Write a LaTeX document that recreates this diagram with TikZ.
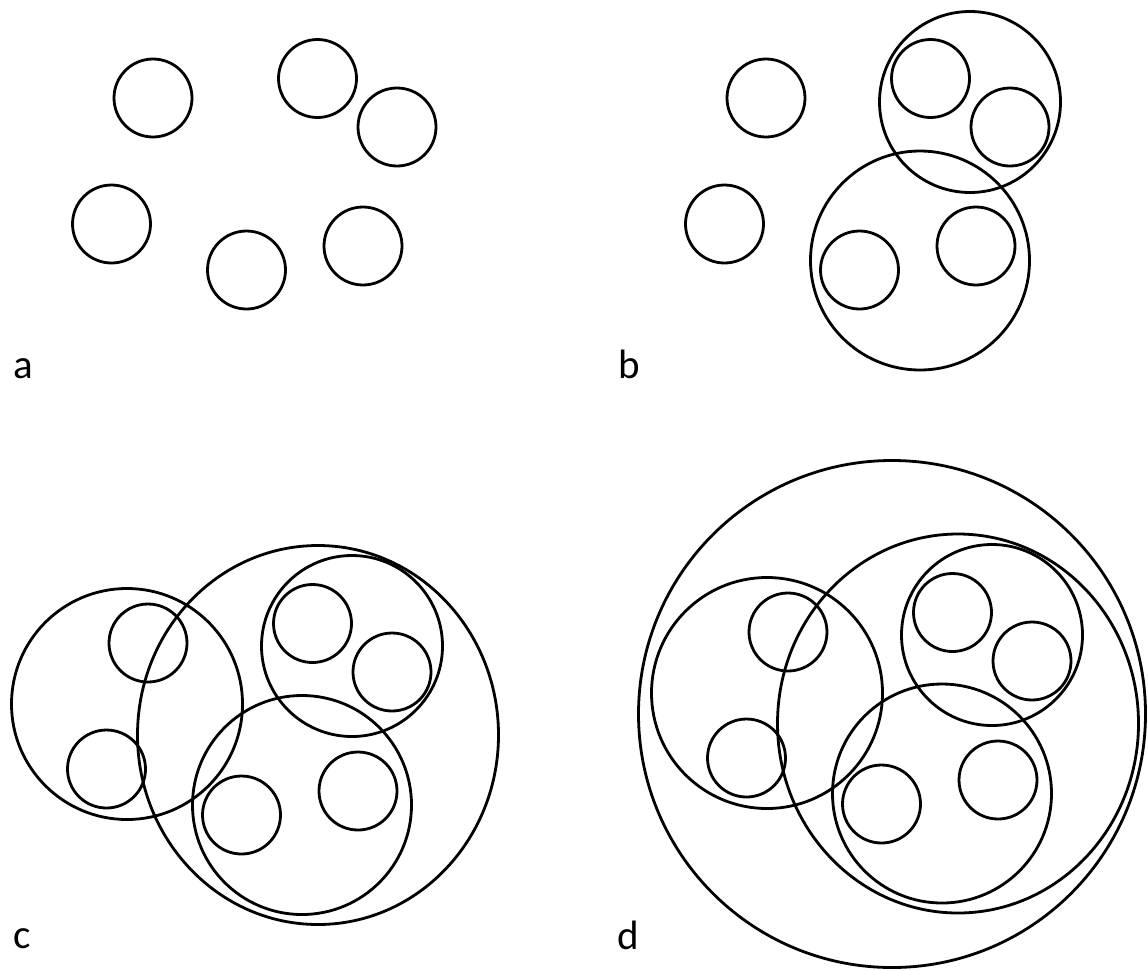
\documentclass[tikz,border=0pt]{standalone}
\usepackage{fontspec}
\setmainfont{Carlito}
\begin{document}
\begin{tikzpicture}[x=1pt,y=-1pt,
  ring/.style={draw=black,line width=2.8pt},
  lbl/.style={anchor=base west,inner sep=0pt,font=\fontsize{41}{45}\selectfont}]
\useasboundingbox (0,0) rectangle (1148,970);
% small circles relative to panel a
\newcommand{\smallset}{%
  \draw[ring] (153,98) circle[radius=39];
  \draw[ring] (317.5,78.5) circle[radius=39];
  \draw[ring] (397,127) circle[radius=39];
  \draw[ring] (111.5,224) circle[radius=39];
  \draw[ring] (246.5,270) circle[radius=39];
  \draw[ring] (363,246) circle[radius=39];}
% panel a
\begin{scope}
  \smallset
\end{scope}
\node[lbl] (la) at (13,378) {a};
% panel b
\begin{scope}[shift={(613,0)}]
  \smallset
  \draw[ring] (357,102) circle[radius=90.5];
  \draw[ring] (307,260.5) circle[radius=109.5];
\end{scope}
\node[lbl] (lb) at (618,378) {b};
% panel c
\begin{scope}[shift={(-5,545)}]
  \smallset
  \draw[ring] (357,101) circle[radius=90.5];
  \draw[ring] (307,260) circle[radius=109.5];
  \draw[ring] (132,159) circle[radius=115.5];
  \draw[ring] (323,190) ellipse[x radius=180.5,y radius=189.5];
\end{scope}
\node[lbl] (lc) at (13,948) {c};
% panel d
\begin{scope}[shift={(635,534)}]
  \smallset
  \draw[ring] (357,101) circle[radius=90.5];
  \draw[ring] (307,259.5) circle[radius=109.5];
  \draw[ring] (132,159) circle[radius=115.5];
  \draw[ring] (323,189.5) ellipse[x radius=180.5,y radius=189.5];
  \draw[ring] (257,180) circle[radius=253.5];
\end{scope}
\node[lbl] (ld) at (617,949) {d};
\end{tikzpicture}
\end{document}
